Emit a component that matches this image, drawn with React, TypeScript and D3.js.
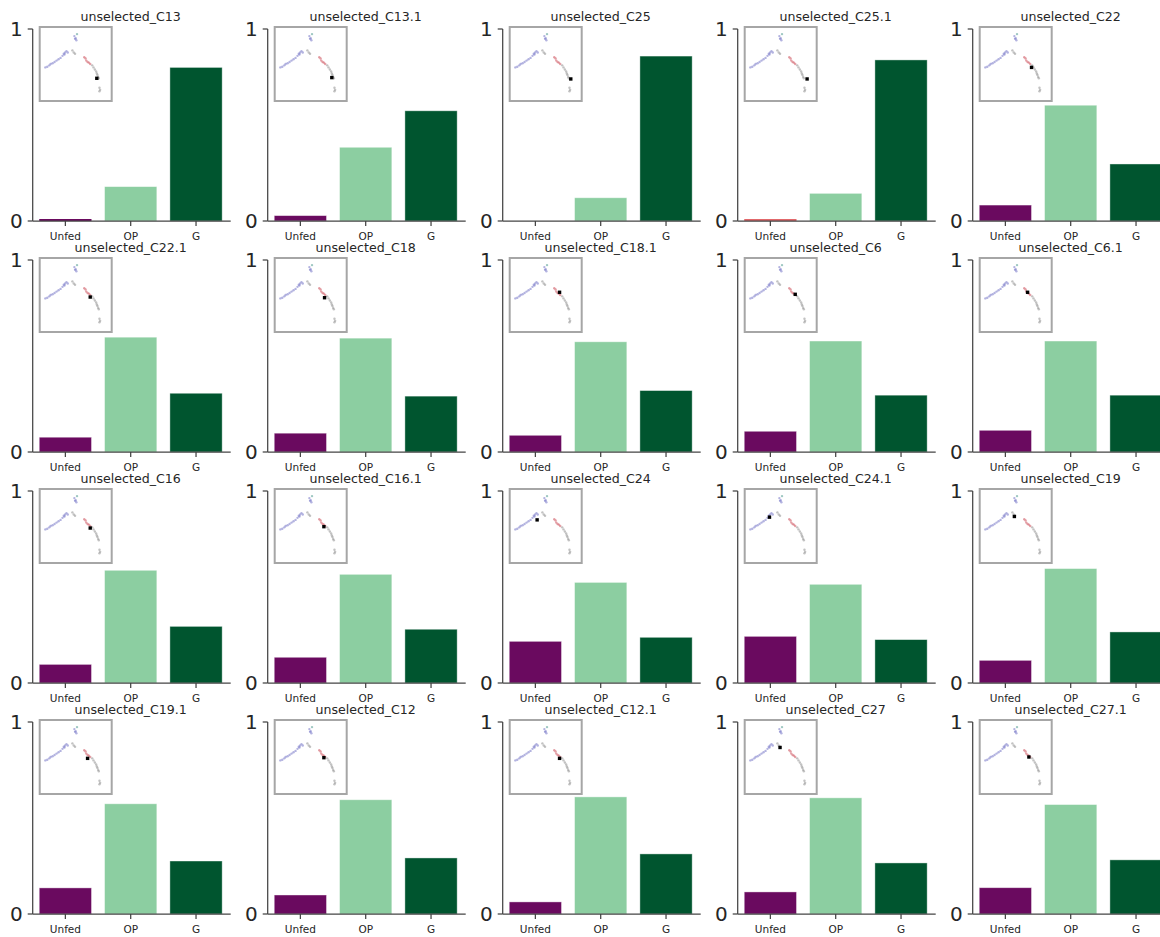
import React from 'react';
import * as d3 from 'd3';

// Panel titles, row by row (5 per row)
const panelNames = [
  'unselected_C13', 'unselected_C13.1', 'unselected_C25', 'unselected_C25.1', 'unselected_C22',
  'unselected_C22.1', 'unselected_C18', 'unselected_C18.1', 'unselected_C6', 'unselected_C6.1',
  'unselected_C16', 'unselected_C16.1', 'unselected_C24', 'unselected_C24.1', 'unselected_C19',
  'unselected_C19.1', 'unselected_C12', 'unselected_C12.1', 'unselected_C27', 'unselected_C27.1',
];

const categories = ['Unfed', 'OP', 'G'];

// Fraction of cells per condition for each cluster
const unfedFrac = [
  0.009, 0.028, 0.0, 0.01, 0.083,
  0.077, 0.098, 0.087, 0.108, 0.113,
  0.097, 0.134, 0.217, 0.243, 0.118,
  0.136, 0.099, 0.063, 0.115, 0.137,
];
const opFrac = [
  0.179, 0.384, 0.121, 0.144, 0.603,
  0.598, 0.593, 0.574, 0.578, 0.578,
  0.587, 0.566, 0.524, 0.514, 0.596,
  0.574, 0.595, 0.61, 0.605, 0.57,
];
const gFrac = [
  0.8, 0.574, 0.859, 0.839, 0.297,
  0.306, 0.291, 0.32, 0.296, 0.296,
  0.295, 0.28, 0.238, 0.226, 0.266,
  0.276, 0.292, 0.313, 0.266, 0.282,
];

const yTicks = [0, 1];

// Location of each cluster on the embedding thumbnail (normalised 0..1)
const markerX = [
  0.82, 0.82, 0.88, 0.9, 0.74,
  0.72, 0.71, 0.71, 0.72, 0.68,
  0.72, 0.7, 0.37, 0.33, 0.48,
  0.68, 0.7, 0.71, 0.49, 0.7,
];
const markerY = [
  0.71, 0.7, 0.72, 0.72, 0.55,
  0.53, 0.54, 0.46, 0.49, 0.46,
  0.53, 0.51, 0.41, 0.37, 0.36,
  0.52, 0.51, 0.52, 0.36, 0.5,
];

// Embedding thumbnail points (normalised coordinates + lineage group)
const embedX = [
  0.04, 0.07, 0.1, 0.12, 0.15, 0.18, 0.21, 0.24, 0.27, 0.3, 0.32, 0.34, 0.36, 0.38, 0.33,
  0.48, 0.5, 0.51, 0.49, 0.52,
  0.45, 0.47, 0.49,
  0.63, 0.65, 0.66, 0.68, 0.7, 0.72,
  0.75, 0.77, 0.79, 0.81, 0.82, 0.83, 0.84, 0.85,
  0.86, 0.87, 0.86,
];
const embedY = [
  0.55, 0.54, 0.52, 0.5, 0.49, 0.47, 0.45, 0.43, 0.41, 0.38, 0.35, 0.33, 0.31, 0.33, 0.36,
  0.09, 0.12, 0.15, 0.13, 0.06,
  0.3, 0.33, 0.35,
  0.4, 0.42, 0.45, 0.47, 0.48, 0.5,
  0.52, 0.55, 0.58, 0.61, 0.64, 0.66, 0.69, 0.71,
  0.85, 0.88, 0.9,
];
const embedGroup = [
  'b', 'b', 'b', 'b', 'b', 'b', 'b', 'b', 'b', 'b', 'b', 'b', 'b', 'b', 'b',
  'b', 'b', 'b', 'b', 't',
  'g', 'g', 'g',
  'r', 'r', 'r', 'r', 'r', 'r',
  'g', 'g', 'g', 'g', 'g', 'g', 'g', 'g',
  'g', 'g', 'g',
];

const barColors: Record<string, string> = { Unfed: '#6a0a5f', OP: '#8ccea1', G: '#00552f' };
const unfedHighlight: Record<string, string> = { 'unselected_C25.1': '#e2686b' };
const groupColors: Record<string, string> = { b: '#8080cc', r: '#d2606a', g: '#999999', t: '#5fa39a' };

const FONT = '"DejaVu Sans", sans-serif';
const AXIS = '#444444';

const COLS = 5;
const colStep = 235;
const rowStep = 231;
const left0 = 32.7;
const top0 = 29;
const plotW = 196;
const plotH = 192;

const x = d3.scaleBand<string>().domain(categories).range([0, plotW]).paddingInner(0.2).paddingOuter(0.1);
const y = d3.scaleLinear().domain([0, 1]).range([plotH, 0]);

function Panel({ i }: { i: number }) {
  const col = i % COLS;
  const row = Math.floor(i / COLS);
  const ox = left0 + col * colStep;
  const oy = top0 + row * rowStep;
  const name = panelNames[i];
  const values = [unfedFrac[i], opFrac[i], gFrac[i]];

  const insetW = 72;
  const insetH = 74;
  const insetX = 7;
  const insetY = -2;
  const px = d3.scaleLinear().domain([0, 1]).range([insetX + 3, insetX + insetW - 3]);
  const py = d3.scaleLinear().domain([0, 1]).range([insetY + 3, insetY + insetH - 3]);

  return (
    <g transform={`translate(${ox},${oy})`}>
      {categories.map((c, k) => {
        const h = plotH - y(values[k]);
        return (
          <rect
            key={c}
            x={x(c)!}
            y={y(values[k]) - (h > 0 && h < 2 ? 2 - h : 0)}
            width={x.bandwidth()}
            height={h > 0 && h < 2 ? 2 : h}
            fill={c === 'Unfed' && unfedHighlight[name] ? unfedHighlight[name] : barColors[c]}
            stroke={h > 4 ? '#ffffff' : 'none'}
            strokeOpacity={0.5}
            strokeWidth={0.8}
          />
        );
      })}
      {/* y axis */}
      <line x1={0} x2={0} y1={y(1)} y2={y(0)} stroke={AXIS} strokeWidth={1.25} />
      {yTicks.map((t) => (
        <g key={t} transform={`translate(0,${y(t)})`}>
          <line x1={-5} x2={0} stroke={AXIS} strokeWidth={1.25} />
          <text x={-10} dy="0.36em" textAnchor="end" fontSize={20} fontFamily={FONT} fill="#262626">
            {t}
          </text>
        </g>
      ))}
      {/* x axis */}
      <line x1={0} x2={plotW + 2} y1={plotH} y2={plotH} stroke={AXIS} strokeWidth={1.25} />
      {categories.map((c) => (
        <g key={c} transform={`translate(${x(c)! + x.bandwidth() / 2},${plotH})`}>
          <line y1={0} y2={5} stroke={AXIS} strokeWidth={1.25} />
          <text y={19} textAnchor="middle" fontSize={10.5} fontFamily={FONT} fill="#262626">
            {c}
          </text>
        </g>
      ))}
      {/* embedding thumbnail */}
      <rect x={insetX} y={insetY} width={insetW} height={insetH} fill="#ffffff" stroke="#a6a6a6" strokeWidth={2} />
      {embedX.map((ex, k) => (
        <circle
          key={k}
          cx={px(ex)}
          cy={py(embedY[k])}
          r={1.2}
          fill={groupColors[embedGroup[k]]}
          opacity={0.6}
        />
      ))}
      <rect x={px(markerX[i]) - 1.7} y={py(markerY[i]) - 1.7} width={3.4} height={3.4} fill="#000000" />
      {/* title */}
      <text x={plotW / 2} y={-8} textAnchor="middle" fontSize={12.6} fontFamily={FONT} fill="#262626">
        {name}
      </text>
    </g>
  );
}

export default function App() {
  return (
    <svg
      width={1160}
      height={937}
      style={{ position: 'absolute', left: 0, top: 0, background: '#ffffff' }}
    >
      <rect width={1160} height={937} fill="#ffffff" />
      {panelNames.map((_, i) => (
        <Panel key={i} i={i} />
      ))}
    </svg>
  );
}
